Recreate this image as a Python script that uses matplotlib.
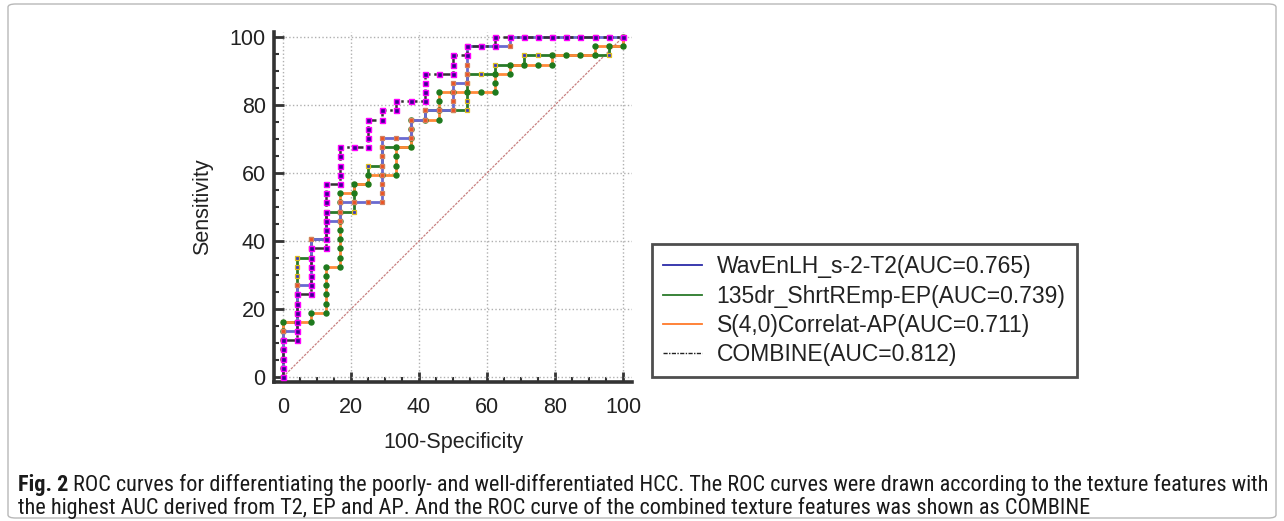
import matplotlib
matplotlib.use('Agg')
import matplotlib.pyplot as plt
from matplotlib.lines import Line2D
from matplotlib.patches import FancyBboxPatch
from matplotlib.ticker import MultipleLocator

plt.rcParams['font.family'] = ['Liberation Sans', 'DejaVu Sans']

# ROC points (100-Specificity, Sensitivity)
wav_pts = [(0, 0), (0, 2.7), (0, 5.4), (0, 8.1), (0, 10.8), (0, 13.5),
           (4.2, 13.5), (4.2, 16.2), (4.2, 18.9), (4.2, 21.6), (4.2, 24.3), (4.2, 27.0),
           (8.3, 27.0), (8.3, 29.7), (8.3, 32.4), (8.3, 35.1), (8.3, 37.8), (8.3, 40.5),
           (12.5, 40.5), (12.5, 43.2), (12.5, 45.9),
           (16.7, 45.9), (16.7, 48.6), (16.7, 51.4),
           (20.8, 51.4), (25.0, 51.4), (29.2, 51.4), (29.2, 54.1), (29.2, 56.8), (29.2, 59.5),
           (29.2, 62.2), (29.2, 64.9), (29.2, 67.6), (29.2, 70.3),
           (33.3, 70.3), (37.5, 70.3), (37.5, 73.0), (37.5, 75.7), (41.7, 75.7), (41.7, 78.4),
           (45.8, 78.4), (50.0, 78.4), (50.0, 81.1), (50.0, 83.8), (50.0, 86.5),
           (54.2, 86.5), (54.2, 89.2), (54.2, 91.9), (54.2, 94.6), (54.2, 97.3),
           (58.3, 97.3), (62.5, 97.3), (66.7, 97.3), (66.7, 100),
           (70.8, 100), (75.0, 100), (79.2, 100), (83.3, 100), (87.5, 100), (91.7, 100),
           (95.8, 100), (100, 100)]

shrt_pts = [(0, 0), (0, 2.7), (0, 5.4), (0, 8.1), (0, 10.8), (0, 13.5), (0, 16.2),
            (4.2, 16.2), (4.2, 18.9), (4.2, 21.6), (4.2, 24.3), (4.2, 27.0), (4.2, 29.7),
            (4.2, 32.4), (4.2, 35.1),
            (8.3, 35.1), (8.3, 37.8), (8.3, 40.5),
            (12.5, 40.5), (12.5, 43.2), (12.5, 45.9), (12.5, 48.6),
            (16.7, 48.6), (20.8, 48.6), (20.8, 51.4), (20.8, 54.1), (20.8, 56.8),
            (25.0, 56.8), (25.0, 59.5), (25.0, 62.2), (29.2, 62.2), (29.2, 64.9), (29.2, 67.6),
            (33.3, 67.6), (37.5, 67.6), (37.5, 70.3), (37.5, 73.0), (37.5, 75.7),
            (41.7, 75.7), (41.7, 78.4),
            (45.8, 78.4), (50.0, 78.4), (54.2, 78.4), (54.2, 81.1), (54.2, 83.8), (54.2, 86.5),
            (54.2, 89.2),
            (58.3, 89.2), (62.5, 89.2), (62.5, 91.9), (66.7, 91.9), (70.8, 91.9), (70.8, 94.6),
            (75.0, 94.6), (79.2, 94.6), (83.3, 94.6), (87.5, 94.6), (91.7, 94.6), (95.8, 94.6),
            (95.8, 97.3), (100, 97.3), (100, 100)]

corr_pts = [(0, 0), (0, 2.7), (0, 5.4), (0, 8.1), (0, 10.8), (0, 13.5), (0, 16.2),
            (4.2, 16.2), (8.3, 16.2), (8.3, 18.9),
            (12.5, 18.9), (12.5, 21.6), (12.5, 24.3), (12.5, 27.0), (12.5, 29.7), (12.5, 32.4),
            (16.7, 32.4), (16.7, 35.1), (16.7, 37.8), (16.7, 40.5), (16.7, 43.2), (16.7, 45.9),
            (16.7, 48.6), (16.7, 51.4), (16.7, 54.1),
            (20.8, 54.1), (20.8, 56.8), (25.0, 56.8), (25.0, 59.5), (29.2, 59.5),
            (33.3, 59.5), (33.3, 62.2), (33.3, 64.9), (33.3, 67.6),
            (37.5, 67.6), (37.5, 70.3), (37.5, 73.0), (37.5, 75.7),
            (41.7, 75.7), (45.8, 75.7), (45.8, 78.4), (45.8, 81.1), (45.8, 83.8),
            (50.0, 83.8), (54.2, 83.8), (58.3, 83.8), (62.5, 83.8), (62.5, 86.5), (62.5, 89.2),
            (66.7, 89.2), (66.7, 91.9),
            (70.8, 91.9), (75.0, 91.9), (79.2, 91.9), (79.2, 94.6),
            (83.3, 94.6), (87.5, 94.6), (91.7, 94.6), (91.7, 97.3), (95.8, 97.3),
            (100, 97.3), (100, 100)]

comb_pts = [(0, 0), (0, 2.7), (0, 5.4), (0, 8.1), (0, 10.8),
            (4.2, 10.8), (4.2, 13.5), (4.2, 16.2), (4.2, 18.9), (4.2, 21.6), (4.2, 24.3),
            (8.3, 24.3), (8.3, 27.0), (8.3, 29.7), (8.3, 32.4), (8.3, 35.1), (8.3, 37.8),
            (12.5, 37.8), (12.5, 40.5), (12.5, 43.2), (12.5, 45.9), (12.5, 48.6), (12.5, 51.4),
            (12.5, 54.1), (12.5, 56.8),
            (16.7, 56.8), (16.7, 59.5), (16.7, 62.2), (16.7, 64.9), (16.7, 67.6),
            (20.8, 67.6), (25.0, 67.6), (25.0, 70.3), (25.0, 73.0), (25.0, 75.7),
            (29.2, 75.7), (29.2, 78.4), (33.3, 78.4), (33.3, 81.1), (37.5, 81.1), (41.7, 81.1),
            (41.7, 83.8), (41.7, 86.5), (41.7, 89.2), (45.8, 89.2), (50.0, 89.2),
            (50.0, 91.9), (50.0, 94.6), (54.2, 94.6), (54.2, 97.3), (58.3, 97.3),
            (62.5, 97.3), (62.5, 100),
            (66.7, 100), (70.8, 100), (75.0, 100), (79.2, 100), (83.3, 100), (87.5, 100),
            (91.7, 100), (95.8, 100), (100, 100)]

labels = ['WavEnLH_s-2-T2(AUC=0.765)', '135dr_ShrtREmp-EP(AUC=0.739)',
          'S(4,0)Correlat-AP(AUC=0.711)', 'COMBINE(AUC=0.812)']
ticks = [0, 20, 40, 60, 80, 100]

caption_bold = 'Fig. 2'
caption_1 = ('ROC curves for differentiating the poorly- and well-differentiated HCC. '
             'The ROC curves were drawn according to the texture features with')
caption_2 = ('the highest AUC derived from T2, EP and AP. And the ROC curve of the '
             'combined texture features was shown as COMBINE')

W, H = 1284, 521
fig = plt.figure(figsize=(W / 100, H / 100), dpi=100)
ax = fig.add_axes([274 / W, 1 - 382 / H, 358 / W, 350 / H])
ax.set_xlim(-2.65, 102.65)
ax.set_ylim(-1.47, 101.47)

# chance line
ax.plot([0, 100], [0, 100], color='#c88080', lw=0.9, ls=(0, (2, 1)), zorder=2)

def unzip(pts):
    return [p[0] for p in pts], [p[1] for p in pts]

x, y = unzip(shrt_pts)
ax.plot(x, y, color='#2a7a2a', lw=2.0, marker='s', ms=3.2, mfc='#3838c0', mec='#e0c020',
        mew=0.9, zorder=3)
x, y = unzip(corr_pts)
ax.plot(x, y, color='#ff8a3a', lw=2.0, marker='o', ms=3.6, mfc='#1e7a1e', mec='#1e7a1e',
        zorder=4)
x, y = unzip(wav_pts)
ax.plot(x, y, color='#6a6ad0', lw=2.0, marker='s', ms=3.4, mfc='#f05020', mec='#d08060',
        mew=0.9, zorder=5)
x, y = unzip(comb_pts)
ax.plot(x, y, color='#333333', lw=1.8, ls=(0, (4, 1.5, 1, 1.5)), marker='s', ms=3.6,
        mfc='#3a0090', mec='#ff00ff', mew=1.0, zorder=6)

ax.set_xticks(ticks)
ax.set_yticks(ticks)
ax.xaxis.set_minor_locator(MultipleLocator(5))
ax.yaxis.set_minor_locator(MultipleLocator(5))
ax.grid(True, which='major', color='#b0b0b0', ls=':', lw=1.0, zorder=1)
ax.tick_params(which='major', direction='in', length=7, width=2, color='#333333',
               labelsize=15.5, labelcolor='#222222')
ax.tick_params(which='minor', direction='in', length=3.5, width=1.5, color='#333333')
ax.tick_params(axis='x', pad=11)
ax.tick_params(axis='y', pad=6)
for side in ['top', 'right']:
    ax.spines[side].set_visible(False)
for side in ['left', 'bottom']:
    ax.spines[side].set_linewidth(2.6)
    ax.spines[side].set_color('#333333')
ax.set_xlabel('100-Specificity', fontsize=15.5, color='#222222', labelpad=10)
ax.set_ylabel('Sensitivity', fontsize=15.5, color='#222222', labelpad=12)

handles = [Line2D([], [], color='#2b2ba8', lw=1.3),
           Line2D([], [], color='#2a7a2a', lw=1.3),
           Line2D([], [], color='#ff7a2a', lw=1.3),
           Line2D([], [], color='#222222', lw=1.0, ls=(0, (3, 1, 1, 1)))]
leg = fig.legend(handles, labels, loc='upper left', bbox_to_anchor=(652 / W, 1 - 244 / H),
                 fontsize=16.5, frameon=True, fancybox=False, edgecolor='#222222',
                 handlelength=1.7, handletextpad=0.62, labelspacing=0.27, borderpad=0.5,
                 borderaxespad=0)
leg.get_frame().set_linewidth(2.0)
for t in leg.get_texts():
    t.set_color('#222222')

# figure border
fig.patches.append(FancyBboxPatch((8 / W, 3 / H), 1268 / W, 514 / H,
                                  boxstyle='round,pad=0,rounding_size=0.006',
                                  transform=fig.transFigure, fill=False,
                                  edgecolor='#b8b8b8', lw=1.0))

# caption, size chosen so the first line spans the same width as in the figure
cap_font = ['Roboto Condensed', 'Liberation Sans Narrow', 'Noto Sans', 'DejaVu Sans']
cap_kw = dict(family=cap_font, va='center', ha='left', color='#1a1a1a')
y1, y2 = 1 - 485 / H, 1 - 508 / H
tb = fig.text(18 / W, y1, caption_bold, fontsize=13, fontweight='bold', **cap_kw)
t1 = fig.text(0, y1, caption_1, fontsize=13, **cap_kw)
t2 = fig.text(18 / W, y2, caption_2, fontsize=13, **cap_kw)
fig.canvas.draw()
r = fig.canvas.get_renderer()
full = tb.get_window_extent(r).width + 5 + t1.get_window_extent(r).width
size = 13 * (1266 - 18) / full
for t in (tb, t1, t2):
    t.set_fontsize(size)
fig.canvas.draw()
bb = tb.get_window_extent(r)
t1.set_x((bb.x1 + 5) / W)

fig.savefig('out.png', dpi=100)
